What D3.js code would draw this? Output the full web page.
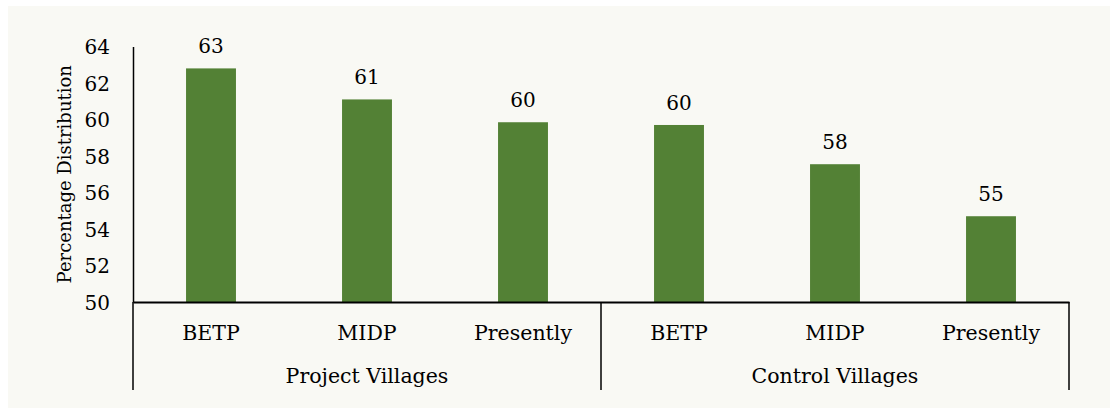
<!DOCTYPE html>
<html>
<head>
<meta charset="utf-8">
<script src="https://cdn.jsdelivr.net/npm/d3@7"></script>
<style>
  html, body { margin: 0; padding: 0; background: #ffffff; }
  svg { display: block; }
  text { font-family: "DejaVu Serif", "Liberation Serif", serif; fill: #000; }
</style>
</head>
<body>
<svg id="chart" width="1110" height="408"></svg>
<script>
const categories = ["BETP", "MIDP", "Presently", "BETP", "MIDP", "Presently"];
const groups = ["Project Villages", "Control Villages"];
const values = [62.8, 61.1, 59.85, 59.7, 57.55, 54.7];
const valueLabels = ["63", "61", "60", "60", "58", "55"];
const yTicks = [50, 52, 54, 56, 58, 60, 62, 64];
const yTitle = "Percentage Distribution";

(function () {
const W = 1110, H = 408;
const mLeft = 133, mRight = 1069, mTop = 46.5, mBottom = 302;
const perGroup = categories.length / groups.length;

const svg = d3.select("#chart");
svg.append("rect").attr("x", 8).attr("y", 6).attr("width", W - 8).attr("height", H - 6).attr("fill", "#f9f9f4");

const x = d3.scaleBand().domain(d3.range(categories.length)).range([mLeft, mRight])
  .paddingInner(0.68).paddingOuter(0.34);
const y = d3.scaleLinear().domain([50, 64]).range([mBottom, mTop]);

// bars
svg.append("g").selectAll("rect").data(values).join("rect")
  .attr("x", (d, i) => x(i))
  .attr("width", x.bandwidth())
  .attr("y", d => y(d))
  .attr("height", d => y(50) - y(d))
  .attr("fill", "#538135");

// value labels
svg.append("g").selectAll("text").data(values).join("text")
  .attr("x", (d, i) => x(i) + x.bandwidth() / 2)
  .attr("y", d => y(d) - 15)
  .attr("text-anchor", "middle")
  .style("font-size", "20px")
  .text((d, i) => valueLabels[i]);

// y axis
const yAxis = d3.axisLeft(y).tickValues(yTicks).tickSize(0).tickSizeOuter(0).tickPadding(23);
const gy = svg.append("g").attr("transform", `translate(${mLeft},0)`).call(yAxis);
gy.select(".domain").attr("stroke", "#000").attr("stroke-width", 1.5);
gy.selectAll("text").style("font-size", "20px").style("font-family", "DejaVu Serif").attr("fill", "#000").attr("dy", "0.36em");

// x axis
const xAxis = d3.axisBottom(x).tickSize(0).tickSizeOuter(0).tickPadding(0).tickFormat(i => categories[i]);
const gx = svg.append("g").attr("transform", `translate(0,${mBottom})`).call(xAxis);
gx.select(".domain").attr("stroke", "#000").attr("stroke-width", 2);
gx.selectAll("text").style("font-size", "20.5px").style("font-family", "DejaVu Serif").attr("fill", "#000")
  .attr("dy", 0).attr("y", 38);

// group separators
const step = x.step();
const bounds = d3.range(groups.length + 1).map(g => mLeft + g * perGroup * step);
svg.append("g").selectAll("line").data(bounds).join("line")
  .attr("x1", d => d).attr("x2", d => d)
  .attr("y1", mBottom).attr("y2", 390)
  .attr("stroke", "#000").attr("stroke-width", 1.5);

// group labels
svg.append("g").selectAll("text").data(groups).join("text")
  .attr("x", (d, g) => (bounds[g] + bounds[g + 1]) / 2)
  .attr("y", 383)
  .attr("text-anchor", "middle")
  .style("font-size", "20.5px")
  .text(d => d);

// y title
svg.append("text")
  .attr("transform", `translate(71,${(mTop + mBottom) / 2}) rotate(-90)`)
  .attr("text-anchor", "middle")
  .style("font-size", "18px")
  .text(yTitle);
})();
</script>
</body>
</html>
